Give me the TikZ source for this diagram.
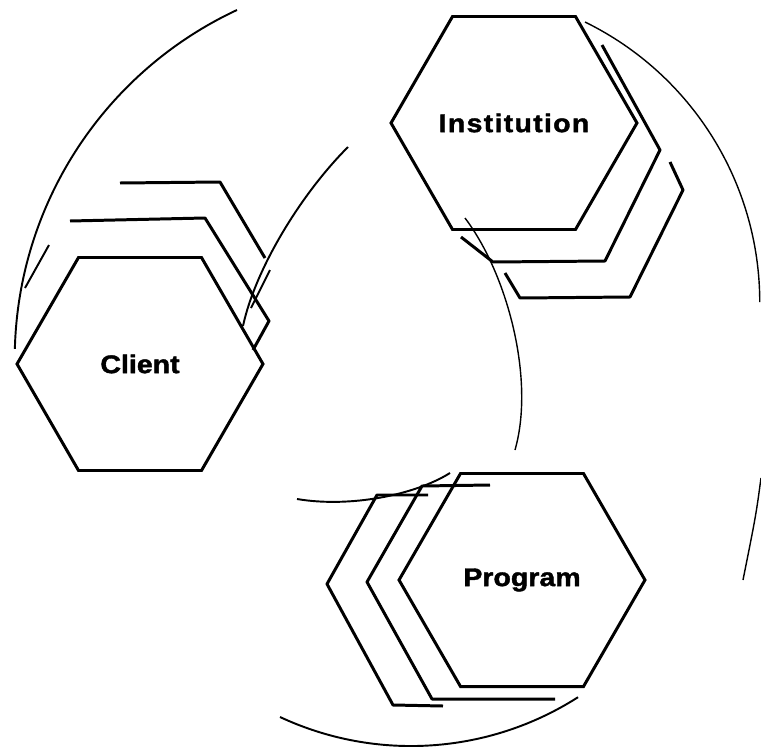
\documentclass[tikz,border=0pt]{standalone}
\usepackage{fontspec}
\setmainfont{Liberation Sans}
\newfontfamily\hexfont[FakeStretch=1.12, FakeBold=1.6]{Liberation Sans}
\usetikzlibrary{shapes.geometric}
\tikzset{hex/.style={regular polygon, regular polygon sides=6, draw, line width=1.7pt, minimum size=4.92cm, inner sep=0pt, font=\hexfont\fontsize{14.5}{16}\selectfont\bfseries}}
\tikzset{stk/.style={color=black, line width=1.7pt, line join=round}}
\tikzset{ring/.style={color=black, line width=1.1pt}}
\tikzset{thinring/.style={color=black, line width=.8pt}}

\begin{document}
\begin{tikzpicture}[x=0.02cm, y=-0.02cm]
  \useasboundingbox (0,0) rectangle (761,747);

  \node[hex] (client) at (140,364) {Client};
  \node[hex] (institution) at (514,123) {\addfontfeature{LetterSpace=5}Institution};
  \node[hex] (program) at (522,580) {Program};

  % stacked copies
  \draw[stk] (70,221) -- (205,218) -- (269,321) -- (253,350);
  \draw[stk] (120,183) -- (220,182) -- (265,258);

  \draw[stk] (602,45) -- (660,150) -- (605,261) -- (493,262) -- (461,237);
  \draw[stk] (670,162) -- (683,190) -- (630,297) -- (520,298) -- (505,273);

  \draw[stk] (490,485) -- (422,486) -- (367,582) -- (432,699) -- (555,699);
  \draw[stk] (428,495) -- (377,495) -- (327,584) -- (393,705) -- (443,706);

  % outer ring
  \draw[ring] (237,10) arc[start angle=245, end angle=181.5, radius=385];
  \draw[ring] (49,245) -- (25,288);
  \draw[thinring] (585,22) arc[start angle=-63.9, end angle=0, radius=312];
  \draw[thinring] (761,478) .. controls (756,515) .. (743,580);
  \draw[ring] (280,717) arc[start angle=115, end angle=57.4, radius=310];

  % inner ring
  \draw[ring] (348,147) .. controls (300,195) and (255,270) .. (243,326);
  \draw[ring] (270,270) -- (251,308);
  \draw[thinring] (465,218) .. controls (508,275) and (535,380) .. (515,450);
  \draw[ring] (297,499) .. controls (350,508) and (415,495) .. (450,473);
\end{tikzpicture}
\end{document}
